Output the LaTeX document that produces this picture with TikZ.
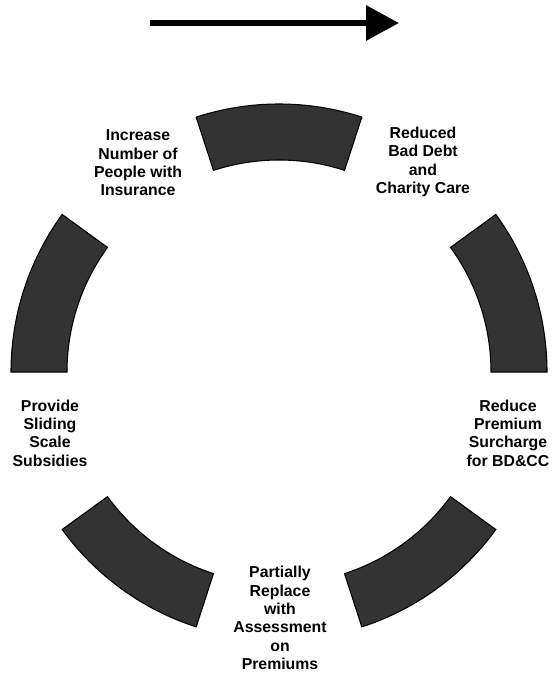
\documentclass[tikz,border=0pt]{standalone}
\usepackage{fontspec}
\setmainfont{Liberation Sans}
\usepackage{tikz}
\usetikzlibrary{arrows.meta}

\begin{document}
\begin{tikzpicture}[
    x=0.03cm,y=0.03cm,
    seg/.style={draw=black,line width=0.9pt,fill=black!80},
    lbl/.style={align=center,font=\fontsize{13.5}{15.6}\selectfont\bfseries},
    flow/.style={-{Triangle[length=28pt,width=29pt]},line width=5pt},
  ]
    \useasboundingbox (0,0) rectangle (551,-675);

    % ring of five segments (radii 212px and 268px)
    \coordinate (c) at (279,-372);
    \foreach \a in {0,72,144,216,288}
      \filldraw[seg] ([shift={(c)}]\a:6.36cm)
        arc[start angle=\a,end angle=\a+36,radius=6.36cm]
        -- ([shift={(c)}]\a+36:8.04cm)
        arc[start angle=\a+36,end angle=\a,radius=8.04cm] -- cycle;

    \node[lbl] (inc)  at (138,-163) {Increase\\Number of\\People with\\Insurance};
    \node[lbl] (bad)  at (423,-162) {Reduced\\Bad Debt\\and\\Charity Care};
    \node[lbl] (sub)  at (50,-433)  {Provide\\Sliding\\Scale\\Subsidies};
    \node[lbl] (sur)  at (508,-433) {Reduce\\Premium\\Surcharge\\for BD\&CC};
    \node[lbl] (prem) at (280,-618) {Partially\\Replace\\with\\Assessment\\on\\Premiums};

    % direction arrow
    \coordinate (tail) at (150,-23);
    \coordinate (head) at (399,-23);
    \draw[flow] (tail) -- (head);

  \end{tikzpicture}
\end{document}
